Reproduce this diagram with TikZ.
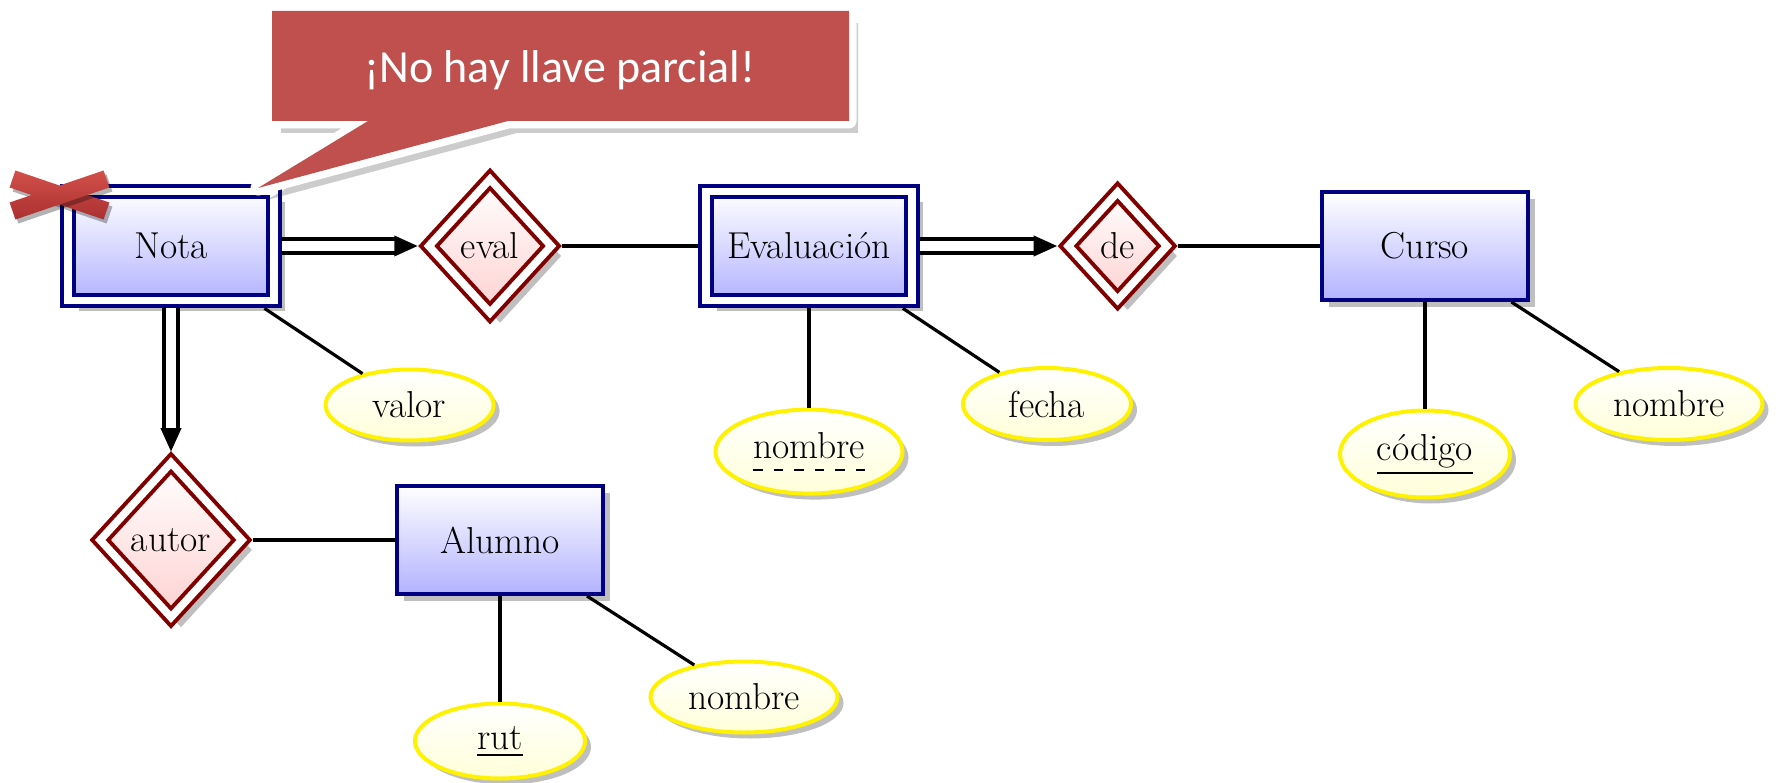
\documentclass[tikz,border=0pt]{standalone}
\usepackage{fontspec}
\newfontfamily\calfont{Carlito}
\usetikzlibrary{shapes.geometric,arrows.meta,shadows}

\definecolor{entborder}{RGB}{0,0,128}
\definecolor{relborder}{RGB}{128,0,0}
\definecolor{calloutred}{RGB}{192,80,77}
\definecolor{xred}{RGB}{210,80,74}
\definecolor{xdark}{RGB}{170,48,48}

\newsavebox\ulbox
\newcommand\dsh{\vrule height 1.6pt depth 0pt width 9.5pt}
\newcommand\solidul[1]{\sbox\ulbox{#1}\vtop{\offinterlineskip\copy\ulbox\kern4pt\hrule height 1.8pt width\wd\ulbox}}
\newcommand\dashul[1]{\sbox\ulbox{#1}\vtop{\offinterlineskip\copy\ulbox\kern11pt\hbox to\wd\ulbox{\dsh\hfill\dsh\hfill\dsh\hfill\dsh\hfill\dsh\hfill\dsh}}}

\tikzset{
  shad/.style={drop shadow={shadow xshift=#1, shadow yshift=-#1, opacity=.25, fill=black}},
  entbase/.style={rectangle, draw=entborder, top color=white, bottom color=blue!30, inner sep=0pt},
  entity/.style={entbase, line width=4pt, minimum width=206pt, minimum height=108pt, outer sep=2pt, shad=7pt},
  weakent/.style={entbase, line width=4pt, double=white, double distance=7.7pt, minimum width=206pt, minimum height=109pt, outer sep=7.85pt, shad=11pt},
  relation/.style={diamond, aspect=0.92, draw=relborder, line width=4pt, double=white, double distance=7.7pt, top color=white, bottom color=red!18, inner sep=12.1pt, outer sep=7.85pt, shad=10pt},
  attr/.style={ellipse, draw=yellow, line width=4pt, top color=white, bottom color=yellow!15, minimum width=168pt, minimum height=71pt, inner sep=0pt, outer sep=2pt, shad=6pt},
  link/.style={line width=3.2pt, black},
  idlink/.style={line width=3.8pt, double=white, double distance=10pt, -{Triangle[length=23.5pt,width=20pt]}},
}

\begin{document}
\begin{tikzpicture}[x=1pt, y=-1pt, font=\fontsize{37.5}{44}\selectfont]
\useasboundingbox (0,0) rectangle (1779,783);

% entities and relations
\node[weakent] (nota) at (171,246) {Nota};
\node[relation] (eval) at (490,246) {eval};
\node[weakent] (eva) at (809,246) {Evaluación};
\node[relation] (de) at (1117.6,246) {de};
\node[entity] (curso) at (1425,246) {Curso};
\node[relation] (autor) at (171,540) {autor};
\node[entity] (alumno) at (500,540) {Alumno};

% attributes
\node[attr] (valor) at (409.6,405) {valor};
\node[attr, minimum width=187pt, minimum height=84pt] (evnom) at (809,451.6) {\dashul{nombre}};
\node[attr, minimum height=72pt] (fecha) at (1047,404) {fecha};
\node[attr, minimum width=170pt, minimum height=87pt] (cod) at (1425,454) {\solidul{código}};
\node[attr, minimum width=187pt, minimum height=72pt] (cunom) at (1669,404) {nombre};
\node[attr, minimum width=170pt, minimum height=75pt] (rut) at (500,741) {\solidul{rut}};
\node[attr, minimum width=187pt] (alnom) at (744,697) {nombre};

% connectors
\draw[link] (nota) -- (valor);
\draw[link] (eval) -- (eva);
\draw[link] (eva) -- (evnom);
\draw[link] (eva) -- (fecha);
\draw[link] (de) -- (curso);
\draw[link] (curso) -- (cod);
\draw[link] (curso) -- (cunom);
\draw[link] (autor) -- (alumno);
\draw[link] (alumno) -- (rut);
\draw[link] (alumno) -- (alnom);
\draw[idlink] (nota) -- (eval);
\draw[idlink] (eva) -- (de);
\draw[idlink] (nota) -- (autor);

% callout
\path[fill=white, draw=white, line width=15pt, line join=round, drop shadow={shadow xshift=9pt, shadow yshift=-12pt, opacity=.2, fill=black}]
  (272,11) -- (849,11) -- (849,121) -- (508,121) -- (258,188) -- (368,121) -- (272,121) -- cycle;
\path[fill=calloutred]
  (272,11) -- (849,11) -- (849,121) -- (508,121) -- (258,188) -- (368,121) -- (272,121) -- cycle;
\node[font=\calfont\fontsize{46}{50}\selectfont, text=white] (msg) at (560,70) {¡No hay llave parcial!};

% red cross
\path[top color=xred, bottom color=xdark, drop shadow={shadow xshift=3pt, shadow yshift=-4pt, opacity=.3, fill=black}]
  (15.4,170.5) -- (109.4,202.5) -- (103.6,219.5) -- (9.6,187.5) -- cycle;
\path[top color=xred, bottom color=xdark, drop shadow={shadow xshift=3pt, shadow yshift=-4pt, opacity=.3, fill=black}]
  (9.6,202.5) -- (103.6,170.5) -- (109.4,187.5) -- (15.4,219.5) -- cycle;
\end{tikzpicture}
\end{document}
